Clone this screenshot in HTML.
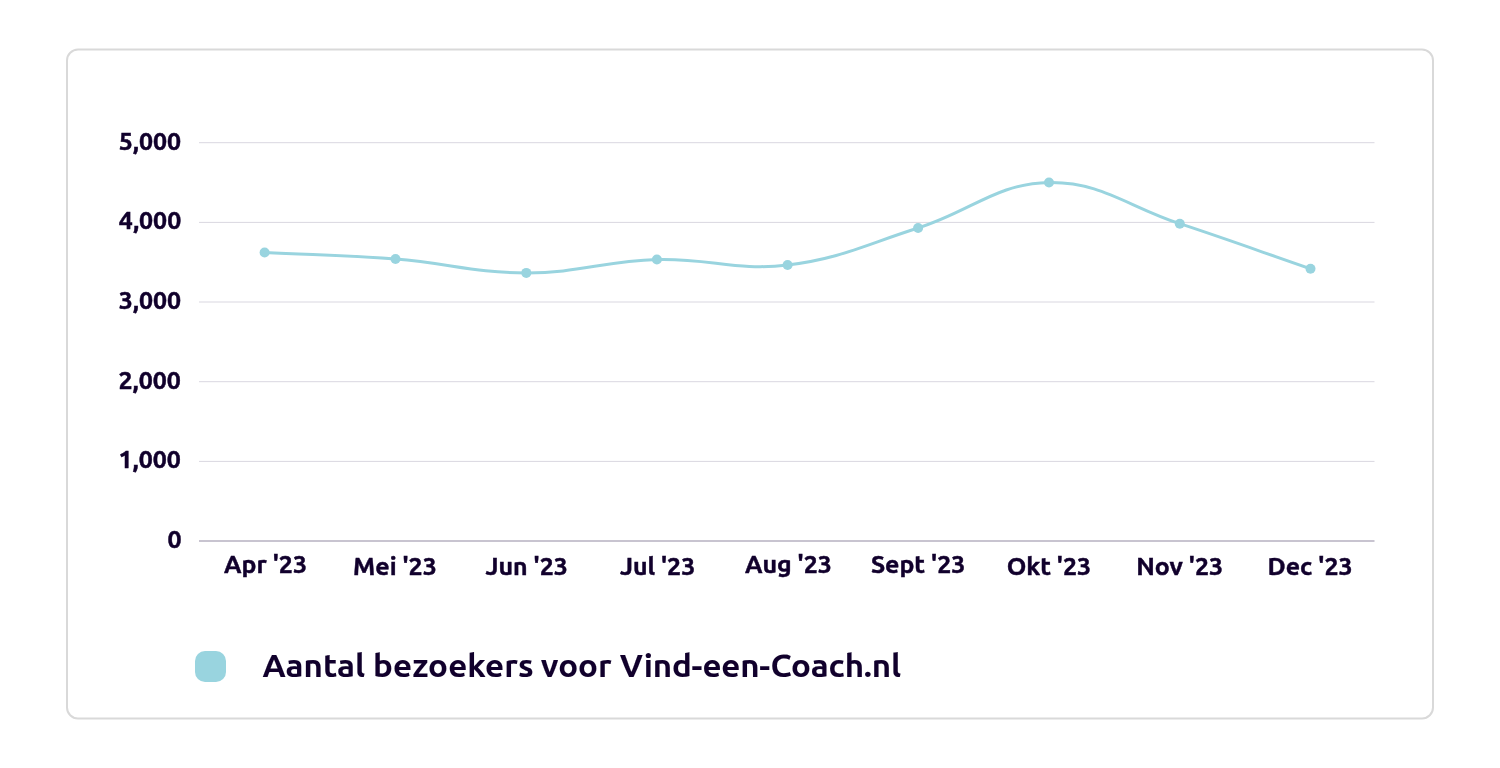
<!DOCTYPE html>
<html lang="nl"><head><meta charset="utf-8"><title>Aantal bezoekers voor Vind-een-Coach.nl</title>
<style>
html,body{margin:0;padding:0;background:#fff;width:1500px;height:768px;overflow:hidden}
svg{position:absolute;left:0;top:0;will-change:transform}
text{font-family:"Ubuntu", "Liberation Sans", sans-serif;font-weight:700;font-size:24px;fill:#11002c;stroke:#11002c;stroke-width:0.45px}
text.lg{font-size:32px;stroke-width:0.1px}
</style></head><body>
<svg width="1500" height="768" viewBox="0 0 1500 768">
<rect x="67" y="49.5" width="1366" height="669" rx="11" ry="11" fill="#fff" stroke="#d9d9d9" stroke-width="2"/>
<line x1="199" y1="142.7" x2="1374.5" y2="142.7" stroke="#d9d7e0" stroke-width="1"/>
<line x1="199" y1="222.4" x2="1374.5" y2="222.4" stroke="#d9d7e0" stroke-width="1"/>
<line x1="199" y1="302.0" x2="1374.5" y2="302.0" stroke="#d9d7e0" stroke-width="1"/>
<line x1="199" y1="381.7" x2="1374.5" y2="381.7" stroke="#d9d7e0" stroke-width="1"/>
<line x1="199" y1="461.4" x2="1374.5" y2="461.4" stroke="#d9d7e0" stroke-width="1"/>
<line x1="199" y1="541" x2="1374.5" y2="541" stroke="#c8c4d0" stroke-width="2"/>
<text transform="translate(118.72,150) scale(1.0393,1)" x="0" y="0">5,000</text>
<text transform="translate(118.82,229) scale(1.0393,1)" x="0" y="0">4,000</text>
<text transform="translate(118.72,309) scale(1.0393,1)" x="0" y="0">3,000</text>
<text transform="translate(118.52,389) scale(1.0393,1)" x="0" y="0">2,000</text>
<text transform="translate(118.52,468) scale(1.0393,1)" x="0" y="0">1,000</text>
<text transform="translate(167.45,548) scale(1.0393,1)" x="0" y="0">0</text>
<text transform="translate(224.06,573) scale(1.0393,1)" x="0" y="0">Apr '23</text>
<text transform="translate(353.07,575) scale(1.0393,1)" x="0" y="0">Mei '23</text>
<text transform="translate(485.55,575) scale(1.0393,1)" x="0" y="0">Jun '23</text>
<text transform="translate(619.96,575) scale(1.0393,1)" x="0" y="0">Jul '23</text>
<text transform="translate(744.91,573) scale(1.0393,1)" x="0" y="0">Aug '23</text>
<text transform="translate(870.90,573) scale(1.0393,1)" x="0" y="0">Sept '23</text>
<text transform="translate(1006.74,575) scale(1.0393,1)" x="0" y="0">Okt '23</text>
<text transform="translate(1136.20,575) scale(1.0393,1)" x="0" y="0">Nov '23</text>
<text transform="translate(1267.56,575) scale(1.0393,1)" x="0" y="0">Dec '23</text>
<text class="lg" transform="translate(262.44,677) scale(1.0342,1)" y="0"><tspan x="0.00" style="letter-spacing:0.107px">Aantal</tspan> <tspan x="106.88" style="letter-spacing:0.145px">bezoekers</tspan> <tspan x="269.20" style="letter-spacing:-0.040px">voor</tspan> <tspan x="345.49" style="letter-spacing:-0.195px">Vind-een-Coach.nl</tspan></text>
<path d="M264.60,252.50 C316.96,255.10 343.25,254.93 395.50,259.00 C447.93,263.09 473.97,272.80 526.30,272.90 C578.53,273.00 604.55,261.08 656.90,259.50 C709.07,257.92 736.31,271.19 787.60,265.00 C840.79,258.59 866.38,244.32 918.10,228.00 C970.94,211.32 996.39,183.36 1049.00,182.50 C1101.07,181.64 1127.71,206.51 1179.80,223.70 C1232.31,241.03 1258.22,250.76 1310.50,268.80" fill="none" stroke="#99d4df" stroke-width="3" stroke-linejoin="round" stroke-linecap="round"/>
<circle cx="264.6" cy="252.5" r="5" fill="#99d4df"/>
<circle cx="395.5" cy="259.0" r="5" fill="#99d4df"/>
<circle cx="526.3" cy="272.9" r="5" fill="#99d4df"/>
<circle cx="656.9" cy="259.5" r="5" fill="#99d4df"/>
<circle cx="787.6" cy="265.0" r="5" fill="#99d4df"/>
<circle cx="918.1" cy="228.0" r="5" fill="#99d4df"/>
<circle cx="1049.0" cy="182.5" r="5" fill="#99d4df"/>
<circle cx="1179.8" cy="223.7" r="5" fill="#99d4df"/>
<circle cx="1310.5" cy="268.8" r="5" fill="#99d4df"/>
<rect x="195" y="651" width="31" height="31" rx="10" ry="10" fill="#99d4df"/>
</svg>
</body></html>
